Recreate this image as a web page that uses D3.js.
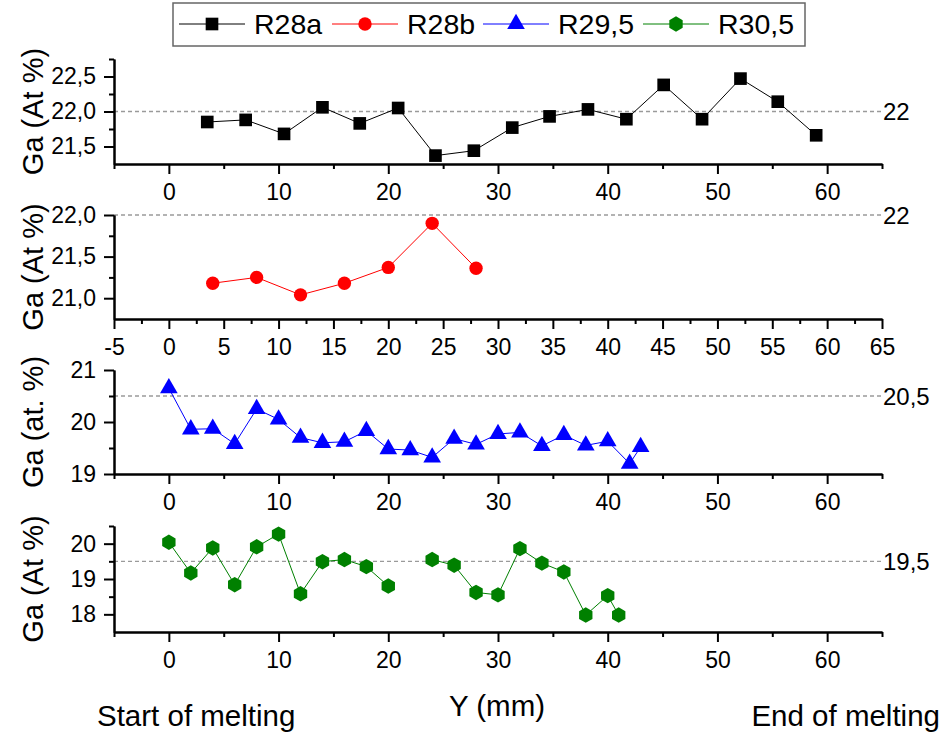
<!DOCTYPE html>
<html>
<head>
<meta charset="utf-8">
<script src="https://cdnjs.cloudflare.com/ajax/libs/d3/7.8.5/d3.min.js"></script>
<style>
  body { margin: 0; background: #fff; }
  svg { font-family: "Liberation Sans", Arial, sans-serif; }
  .axis path, .axis line { stroke: #000; stroke-width: 2; }
  .axis text { font-size: 23px; fill: #000; }
</style>
</head>
<body>
<div id="chart"></div>
<script>
var width = 944;
var height = 733;

// data
var seriesNames = ['R28a', 'R28b', 'R29,5', 'R30,5'];
var seriesColors = ['#000000', '#ff0000', '#0000ff', '#008000'];

var yR28a = [3.5, 7, 10.5, 14, 17.4, 20.9, 24.3, 27.8, 31.3, 34.7, 38.2, 41.7, 45.1, 48.6, 52.1, 55.5, 59];
var gaR28a = [21.85, 21.88, 21.68, 22.06, 21.83, 22.05, 21.37, 21.44, 21.77, 21.93, 22.03, 21.89, 22.38, 21.89, 22.47, 22.14, 21.66];

var yR28b = [4, 8, 12, 16, 20, 24, 28];
var gaR28b = [21.18, 21.25, 21.04, 21.18, 21.37, 21.9, 21.36];

var yR295 = [0, 2, 4, 6, 8, 10, 12, 14, 16, 18, 20, 22, 24, 26, 28, 30, 32, 34, 36, 38, 40, 42, 43];
var gaR295 = [20.65, 19.86, 19.87, 19.58, 20.25, 20.05, 19.7, 19.6, 19.62, 19.83, 19.48, 19.46, 19.32, 19.68, 19.57, 19.77, 19.8, 19.54, 19.75, 19.55, 19.63, 19.2, 19.52];

// no measurement at 22 mm -> gap in the line
var yR305 = [0, 2, 4, 6, 8, 10, 12, 14, 16, 18, 20, 22, 24, 26, 28, 30, 32, 34, 36, 38, 40, 41];
var gaR305 = [20.04, 19.17, 19.88, 18.84, 19.91, 20.27, 18.58, 19.49, 19.55, 19.35, 18.8, null, 19.55, 19.39, 18.62, 18.55, 19.86, 19.45, 19.2, 17.98, 18.53, 17.98];

var refValues = [22, 22, 20.5, 19.5];
var refLabels = ['22', '22', '20,5', '19,5'];
var yTitles = ['Ga (At %)', 'Ga (At %)', 'Ga (at. %)', 'Ga (At %)'];

var x = d3.scaleLinear().domain([-5, 65]).range([114, 882]);

var svg = d3.select("#chart")
  .append("svg")
  .attr("width", width)
  .attr("height", height);

svg.append("rect").attr("width", "100%").attr("height", "100%").attr("fill", "white");

// hexagon symbol (pointy top)
var symbolHexagon = {
  draw: function(context, size) {
    var r = Math.sqrt(size / (1.5 * Math.sqrt(3)));
    for (var k = 0; k < 6; k++) {
      var a = -Math.PI / 2 + k * Math.PI / 3;
      if (k == 0) context.moveTo(r * Math.cos(a), r * Math.sin(a));
      else context.lineTo(r * Math.cos(a), r * Math.sin(a));
    }
    context.closePath();
  }
};

var symbols = [
  d3.symbol().type(d3.symbolSquare).size(160),
  d3.symbol().type(d3.symbolCircle).size(140),
  d3.symbol().type(d3.symbolTriangle).size(135),
  d3.symbol().type(symbolHexagon).size(155)
];

var comma1 = function(d) { return d3.format(".1f")(d).replace(".", ","); };
var intFmt = function(d) { return String(d); }; // plain hyphen for -5

var panels = [
  { xs: yR28a, ys: gaR28a, domain: [21.25, 22.75], range: [164, 59],
    yMajor: [21.5, 22, 22.5], yMinor: [21.75, 22.25, 22.75], yFmt: comma1,
    xMajor: d3.range(0, 61, 10), xMinor: d3.range(-5, 66, 10) },
  { xs: yR28b, ys: gaR28b, domain: [20.75, 22.0], range: [319, 215],
    yMajor: [21, 21.5, 22], yMinor: [21.25, 21.75], yFmt: comma1,
    xMajor: d3.range(-5, 66, 5), xMinor: d3.range(-2.5, 65, 5) },
  { xs: yR295, ys: gaR295, domain: [19, 21], range: [474, 370],
    yMajor: [19, 20, 21], yMinor: [19.5, 20.5], yFmt: intFmt,
    xMajor: d3.range(0, 61, 10), xMinor: d3.range(-5, 66, 10) },
  { xs: yR305, ys: gaR305, domain: [17.5, 20.5], range: [632, 526],
    yMajor: [18, 19, 20], yMinor: [18.5, 19.5, 20.5], yFmt: intFmt,
    xMajor: d3.range(0, 61, 10), xMinor: d3.range(-5, 66, 10) }
];

panels.forEach(function(p, i) {
  var y = d3.scaleLinear().domain(p.domain).range(p.range);
  var g = svg.append("g");
  var base = p.range[0];

  // reference line
  g.append("line")
    .attr("x1", x.range()[0]).attr("x2", x.range()[1])
    .attr("y1", y(refValues[i])).attr("y2", y(refValues[i]))
    .attr("stroke", "#9a9a9a").attr("stroke-width", 1.3)
    .attr("stroke-dasharray", "4,3");
  g.append("text")
    .attr("x", x.range()[1] + 1).attr("y", y(refValues[i]))
    .attr("dy", "0.36em")
    .style("font-size", "24px")
    .text(refLabels[i]);

  // axes
  g.append("g").attr("class", "axis")
    .attr("transform", "translate(0," + base + ")")
    .call(d3.axisBottom(x).tickValues(p.xMinor).tickSize(5).tickSizeOuter(0).tickFormat(""));
  g.append("g").attr("class", "axis")
    .attr("transform", "translate(0," + base + ")")
    .call(d3.axisBottom(x).tickValues(p.xMajor).tickSize(10).tickSizeOuter(0).tickPadding(10).tickFormat(intFmt));

  g.append("g").attr("class", "axis")
    .attr("transform", "translate(" + x.range()[0] + ",0)")
    .call(d3.axisLeft(y).tickValues(p.yMinor).tickSize(5).tickSizeOuter(0).tickFormat(""));
  g.append("g").attr("class", "axis")
    .attr("transform", "translate(" + x.range()[0] + ",0)")
    .call(d3.axisLeft(y).tickValues(p.yMajor).tickSize(10).tickSizeOuter(0).tickPadding(8).tickFormat(p.yFmt));

  // y title
  g.append("text")
    .attr("transform", "translate(43," + ((p.range[0] + p.range[1]) / 2) + ") rotate(-90)")
    .attr("text-anchor", "middle")
    .style("font-size", "29px")
    .text(yTitles[i]);

  var pts = p.xs.map(function(d, j) { return { x: d, v: p.ys[j] }; });

  var line = d3.line()
    .defined(function(d) { return d.v != null; })
    .x(function(d) { return x(d.x); })
    .y(function(d) { return y(d.v); });

  g.append("path")
    .datum(pts)
    .attr("d", line)
    .attr("fill", "none")
    .attr("stroke", seriesColors[i])
    .attr("stroke-width", 1);

  g.selectAll(".mark")
    .data(pts.filter(function(d) { return d.v != null; }))
    .enter()
    .append("path")
    .attr("class", "mark")
    .attr("transform", function(d) { return "translate(" + x(d.x) + "," + y(d.v) + ")"; })
    .attr("d", symbols[i])
    .attr("fill", seriesColors[i]);
});

// bottom titles
svg.append("text").attr("x", 497).attr("y", 716).attr("text-anchor", "middle")
  .style("font-size", "29.5px").text("Y (mm)");
svg.append("text").attr("x", 97).attr("y", 726)
  .style("font-size", "29.5px").text("Start of melting");
svg.append("text").attr("x", 940).attr("y", 726).attr("text-anchor", "end")
  .style("font-size", "29.5px").text("End of melting");

// legend
var legend = svg.append("g");
legend.append("rect")
  .attr("x", 173).attr("y", 3).attr("width", 632).attr("height", 43)
  .attr("fill", "white").attr("stroke", "#666").attr("stroke-width", 1.5);

var legendX = [179, 332, 483, 643];
seriesNames.forEach(function(name, i) {
  var lx = legendX[i];
  var item = legend.append("g");
  item.append("line")
    .attr("x1", lx).attr("x2", lx + 66).attr("y1", 24).attr("y2", 24)
    .attr("stroke", seriesColors[i]).attr("stroke-width", 1);
  item.append("path")
    .attr("transform", "translate(" + (lx + 33) + ",24)")
    .attr("d", symbols[i])
    .attr("fill", seriesColors[i]);
  item.append("text")
    .attr("x", lx + 75).attr("y", 24).attr("dy", "0.36em")
    .style("font-size", "28.5px")
    .text(name);
});
</script>
</body>
</html>
